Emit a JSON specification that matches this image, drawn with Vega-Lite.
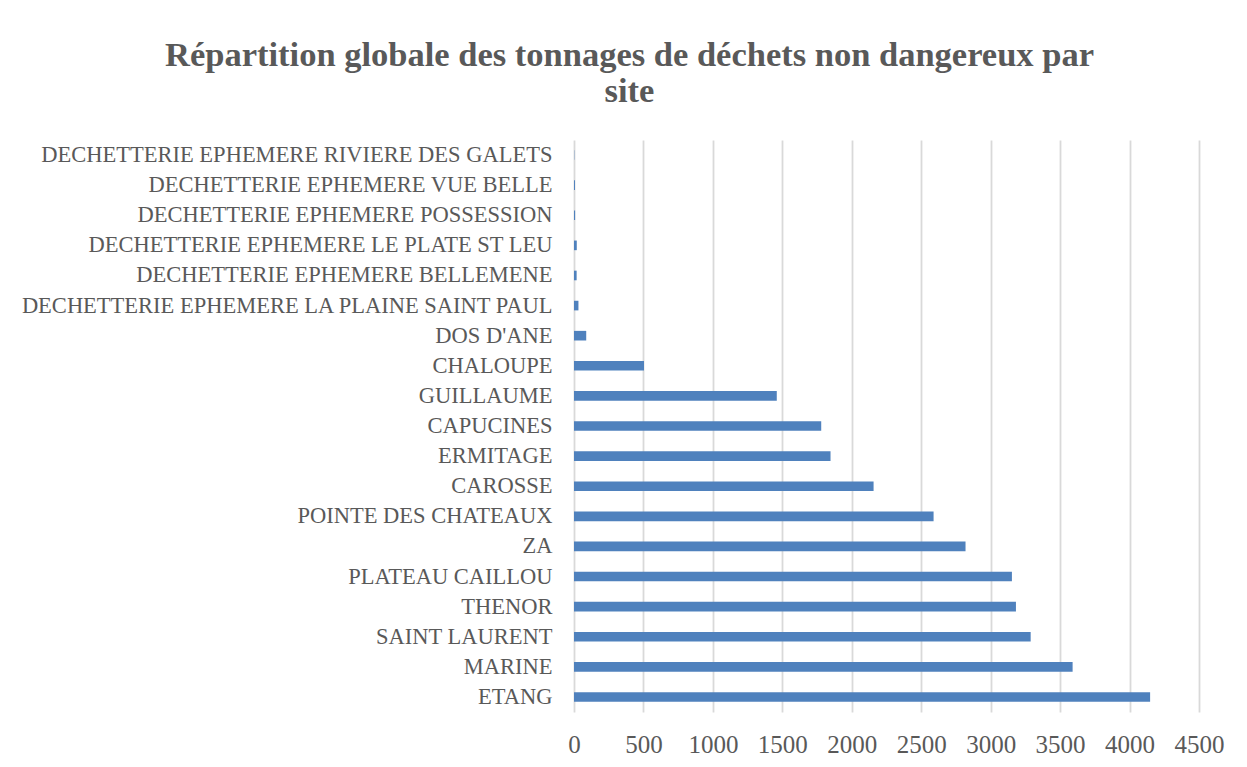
{
  "$schema": "https://vega.github.io/schema/vega-lite/v6.json",
  "autosize": "none",
  "padding": {"left": 574, "top": 140, "right": 48, "bottom": 55},
  "width": 625,
  "height": 572,
  "background": "white",
  "title": {
    "text": ["Répartition globale des tonnages de déchets non dangereux par", "site"],
    "font": "Liberation Serif",
    "fontSize": 34.5,
    "fontWeight": "bold",
    "color": "#595959",
    "anchor": "middle",
    "frame": "group",
    "dx": -257,
    "offset": 31,
    "lineHeight": 36
  },
  "data": {
    "values": [
      {"site": "DECHETTERIE EPHEMERE RIVIERE DES GALETS", "tonnage": 2},
      {"site": "DECHETTERIE EPHEMERE VUE BELLE ", "tonnage": 7},
      {"site": "DECHETTERIE EPHEMERE POSSESSION", "tonnage": 8},
      {"site": "DECHETTERIE EPHEMERE LE PLATE ST LEU", "tonnage": 20},
      {"site": "DECHETTERIE EPHEMERE BELLEMENE", "tonnage": 19},
      {"site": "DECHETTERIE EPHEMERE LA PLAINE SAINT PAUL", "tonnage": 32},
      {"site": "DOS D'ANE", "tonnage": 88},
      {"site": "CHALOUPE", "tonnage": 504},
      {"site": "GUILLAUME", "tonnage": 1460},
      {"site": "CAPUCINES", "tonnage": 1780},
      {"site": "ERMITAGE", "tonnage": 1847},
      {"site": "CAROSSE", "tonnage": 2157},
      {"site": "POINTE DES CHATEAUX", "tonnage": 2589},
      {"site": "ZA", "tonnage": 2819},
      {"site": "PLATEAU CAILLOU", "tonnage": 3153},
      {"site": "THENOR", "tonnage": 3182},
      {"site": "SAINT LAURENT", "tonnage": 3288},
      {"site": "MARINE", "tonnage": 3590},
      {"site": "ETANG", "tonnage": 4148}
    ]
  },
  "mark": {"type": "bar", "color": "#4f81bd"},
  "encoding": {
    "y": {
      "field": "site",
      "type": "nominal",
      "sort": null,
      "scale": {"paddingInner": 0.68, "paddingOuter": 0.34},
      "axis": {
        "title": null,
        "domain": false,
        "ticks": false,
        "grid": false,
        "labelPadding": 22,
        "labelFont": "Liberation Serif",
        "labelFontSize": 22.5,
        "labelColor": "#595959",
        "labelLimit": 700
      }
    },
    "x": {
      "field": "tonnage",
      "type": "quantitative",
      "scale": {"domain": [0, 4500], "nice": false},
      "axis": {
        "title": null,
        "values": [0, 500, 1000, 1500, 2000, 2500, 3000, 3500, 4000, 4500],
        "format": "d",
        "domain": false,
        "ticks": false,
        "grid": true,
        "gridColor": "#d9d9d9",
        "gridWidth": 1.8,
        "labelPadding": 20,
        "labelFont": "Liberation Serif",
        "labelFontSize": 25,
        "labelColor": "#595959",
        "labelFlush": false
      }
    }
  },
  "config": {"view": {"stroke": null}}
}
